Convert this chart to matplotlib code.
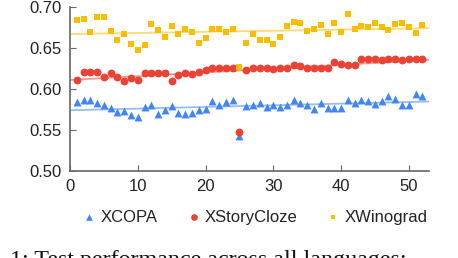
import matplotlib.pyplot as plt
import numpy as np

steps = np.arange(1, 53)

xcopa = [0.584, 0.586, 0.587, 0.583, 0.580, 0.577, 0.572, 0.573, 0.568, 0.566,
         0.578, 0.580, 0.569, 0.575, 0.579, 0.571, 0.570, 0.571, 0.575, 0.576,
         0.585, 0.580, 0.584, 0.586, 0.543, 0.579, 0.581, 0.583, 0.578, 0.580,
         0.578, 0.581, 0.586, 0.583, 0.580, 0.576, 0.583, 0.577, 0.577, 0.577,
         0.587, 0.583, 0.587, 0.585, 0.582, 0.585, 0.591, 0.588, 0.580, 0.581,
         0.594, 0.591]
xstorycloze = [0.611, 0.621, 0.621, 0.621, 0.615, 0.619, 0.615, 0.610, 0.614, 0.611,
               0.620, 0.619, 0.620, 0.619, 0.610, 0.617, 0.619, 0.618, 0.621, 0.623,
               0.625, 0.625, 0.626, 0.626, 0.547, 0.623, 0.626, 0.626, 0.625, 0.624,
               0.625, 0.625, 0.629, 0.628, 0.626, 0.626, 0.626, 0.625, 0.633, 0.630,
               0.629, 0.629, 0.636, 0.637, 0.637, 0.635, 0.636, 0.637, 0.635, 0.637,
               0.636, 0.636]
xwinograd = [0.684, 0.685, 0.669, 0.688, 0.688, 0.671, 0.660, 0.667, 0.655, 0.648,
             0.654, 0.679, 0.672, 0.663, 0.677, 0.667, 0.673, 0.670, 0.656, 0.662,
             0.673, 0.673, 0.669, 0.673, 0.627, 0.656, 0.667, 0.660, 0.660, 0.655,
             0.664, 0.677, 0.682, 0.681, 0.671, 0.673, 0.678, 0.667, 0.681, 0.669,
             0.691, 0.673, 0.677, 0.676, 0.681, 0.675, 0.672, 0.679, 0.681, 0.675,
             0.668, 0.678]

series = [("XCOPA", xcopa, "#4285f4", "^", 32),
          ("XStoryCloze", xstorycloze, "#ea4335", "o", 32),
          ("XWinograd", xwinograd, "#fbbc04", "s", 16)]

plt.rcParams['font.family'] = ['Liberation Sans', 'DejaVu Sans']
fig = plt.figure(figsize=(4.58, 2.58), dpi=100)
ax = fig.add_axes([0.153, 0.337, 0.784, 0.636])

xfit = np.array([0, 53])
handles = []
for name, vals, col, mk, sz in series:
    # linear trendline
    k, b = np.polyfit(steps, vals, 1)
    ax.plot(xfit, k * xfit + b, color=col, alpha=0.55, lw=1.3, zorder=1)
    h = ax.scatter(steps, vals, color=col, marker=mk, s=sz, linewidths=0, zorder=2, label=name)
    handles.append(h)

ax.set_xlim(0, 53)
ax.set_ylim(0.5, 0.7)
ax.set_xticks([0, 10, 20, 30, 40, 50])
ax.set_yticks([0.50, 0.55, 0.60, 0.65, 0.70])
ax.set_yticklabels(["0.50", "0.55", "0.60", "0.65", "0.70"])
ax.tick_params(direction='in', length=4, color='#666666', labelsize=12, labelcolor='#222222', pad=6)
for s in ['top', 'right']:
    ax.spines[s].set_visible(False)
for s in ['left', 'bottom']:
    ax.spines[s].set_color('#666666')
    ax.spines[s].set_linewidth(1.2)

fig.legend(handles=handles, loc='center', bbox_to_anchor=(0.555, 0.158), ncol=3, frameon=False,
           fontsize=12, handlelength=1.0, handletextpad=0.15, columnspacing=1.68,
           markerscale=0.85, labelcolor='#222222')

fig.text(0.022, -0.05, "1: Test performance across all languages:", family='Liberation Serif',
         fontsize=17.3, color='#111111', va='bottom', ha='left')

plt.savefig("out.png", dpi=100)
